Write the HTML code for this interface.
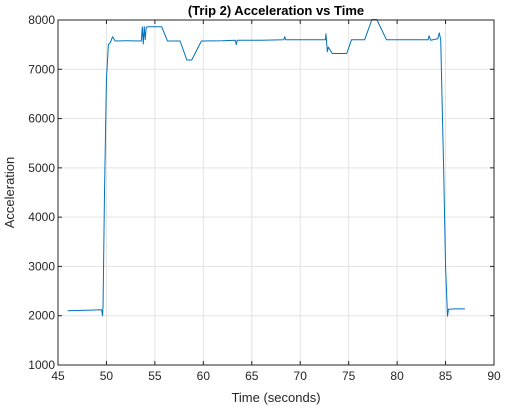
<!DOCTYPE html>
<html><head><meta charset="utf-8"><style>
body{margin:0;background:#fff;}
svg{display:block;font-family:"Liberation Sans",Arial,sans-serif;}
</style></head><body>
<svg id="chart" width="507" height="409"></svg>
<script>
const times=[46,48,49.5,49.6,49.65,49.8,50.0,50.2,50.4,50.64,50.9,52,53.6,53.7,53.8,53.9,54.0,54.1,54.3,55.7,56.3,57.6,58.3,58.8,59.8,62,63.3,63.4,63.5,66,68.3,68.4,68.5,72.6,72.65,72.8,72.9,73.3,74.8,75.3,76.65,77.4,77.9,78.9,83.2,83.3,83.45,84.2,84.35,84.5,84.8,85.0,85.2,85.3,86,87];
const values=[2100,2110,2120,2000,2200,4500,6800,7500,7540,7661,7574,7580,7574,7860,7513,7864,7600,7850,7864,7864,7574,7574,7188,7188,7574,7580,7590,7500,7590,7590,7600,7661,7600,7600,7720,7357,7450,7320,7320,7600,7600,8010,8010,7600,7600,7680,7590,7620,7740,7600,5000,3000,1990,2130,2140,2140];
const xTicks=[45,50,55,60,65,70,75,80,85,90];
const yTicks=[1000,2000,3000,4000,5000,6000,7000,8000];
const L=58,R=494,T=20,B=365,x0=45,x1=90,y0=1000,y1=8000;
const sx=t=>L+(t-x0)/(x1-x0)*(R-L);
const sy=v=>B-(v-y0)/(y1-y0)*(B-T);
const svg=document.getElementById('chart');
const NS='http://www.w3.org/2000/svg';
function mk(tag,attrs,parent){const e=document.createElementNS(NS,tag);for(const k in attrs)e.setAttribute(k,attrs[k]);(parent||svg).appendChild(e);return e;}
const bg=mk('rect',{x:L,y:T,width:R-L,height:B-T,fill:'#fff'});


xTicks.forEach(t=>{
  const g=mk('line',{x1:sx(t),x2:sx(t),y1:T,y2:B,stroke:'#e3e3e3','stroke-width':1});
  
  
  mk('line',{x1:sx(t),x2:sx(t),y1:B,y2:B-4,stroke:'#262626'});
  mk('line',{x1:sx(t),x2:sx(t),y1:T,y2:T+4,stroke:'#262626'});
  const lb=mk('text',{x:sx(t),y:B+15,'text-anchor':'middle','font-size':12,fill:'#262626'});
  lb.textContent=t;
  
  
});
yTicks.forEach(v=>{
  const g=mk('line',{x1:L,x2:R,y1:sy(v),y2:sy(v),stroke:'#e3e3e3','stroke-width':1});
  
  
  mk('line',{x1:L,x2:L+4,y1:sy(v),y2:sy(v),stroke:'#262626'});
  mk('line',{x1:R,x2:R-4,y1:sy(v),y2:sy(v),stroke:'#262626'});
  const lb=mk('text',{x:L-3,y:sy(v)+4,'text-anchor':'end','font-size':12,fill:'#262626'});
  lb.textContent=v;
  
  
});
const line=mk('polyline',{points:times.map((t,i)=>sx(t)+','+sy(values[i])).join(' '),fill:'none',stroke:'#0072bd','stroke-width':1,'stroke-linejoin':'round'});


const box=mk('rect',{x:L,y:T,width:R-L,height:B-T,fill:'none',stroke:'#262626','stroke-width':1});


const title=mk('text',{x:(L+R)/2,y:15,'text-anchor':'middle','font-size':13,'font-weight':'bold',fill:'#000'});
title.textContent='(Trip 2) Acceleration vs Time';


const xt=mk('text',{x:(L+R)/2,y:402,'text-anchor':'middle','font-size':13,fill:'#262626'});
xt.textContent='Time (seconds)';


const yt=mk('text',{x:14,y:(T+B)/2,'text-anchor':'middle','font-size':13,fill:'#262626',transform:'rotate(-90 14 '+((T+B)/2)+')'});
yt.textContent='Acceleration';


</script>
</body></html>
